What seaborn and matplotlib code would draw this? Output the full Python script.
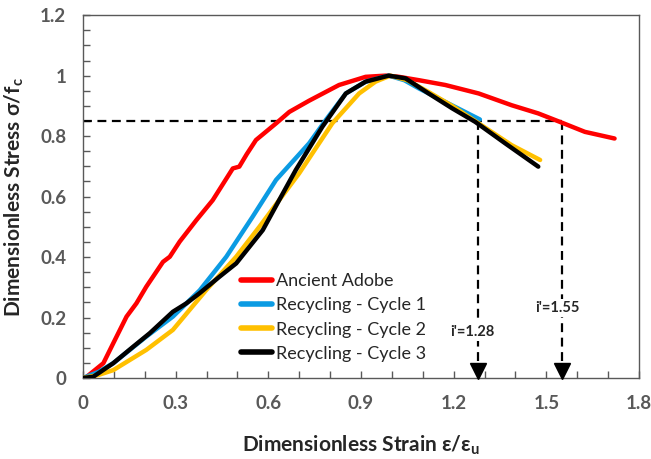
import pandas as pd
import matplotlib
matplotlib.use('Agg')
import matplotlib.pyplot as plt
import seaborn as sns
from matplotlib.ticker import MultipleLocator, FuncFormatter
from matplotlib.lines import Line2D

# datos
adobe_x = [0, 0.012, 0.066, 0.098, 0.141, 0.173, 0.205, 0.259, 0.281, 0.313, 0.367, 0.42, 0.485, 0.506,
           0.53, 0.56, 0.625, 0.668, 0.732, 0.829, 0.915, 0.98, 1.023, 1.087, 1.173, 1.281, 1.388, 1.474,
           1.544, 1.625, 1.721]
adobe_y = [0, 0.004, 0.049, 0.115, 0.203, 0.247, 0.302, 0.384, 0.401, 0.451, 0.522, 0.588, 0.693, 0.699,
           0.74, 0.787, 0.842, 0.880, 0.917, 0.969, 0.996, 1.0, 0.996, 0.985, 0.969, 0.941, 0.902, 0.875,
           0.847, 0.814, 0.792]

c1_x = [0, 0.05, 0.098, 0.205, 0.291, 0.378, 0.464, 0.549, 0.625, 0.732, 0.786, 0.851, 0.915, 0.99,
        1.04, 1.087, 1.173, 1.285]
c1_y = [0, 0.02, 0.049, 0.137, 0.203, 0.29, 0.401, 0.533, 0.655, 0.776, 0.853, 0.941, 0.98, 1.0,
        0.985, 0.958, 0.913, 0.855]

c2_x = [0, 0.05, 0.098, 0.205, 0.291, 0.399, 0.496, 0.571, 0.635, 0.7, 0.807, 0.894, 0.947, 0.995,
        1.05, 1.12, 1.195, 1.281, 1.388, 1.48]
c2_y = [0, 0.01, 0.026, 0.093, 0.159, 0.291, 0.401, 0.5, 0.588, 0.677, 0.842, 0.941, 0.98, 1.0,
        0.985, 0.945, 0.9, 0.842, 0.77, 0.721]

c3_x = [0, 0.033, 0.098, 0.162, 0.216, 0.291, 0.335, 0.377, 0.442, 0.496, 0.528, 0.582, 0.635, 0.689,
        0.775, 0.851, 0.915, 0.99, 1.044, 1.119, 1.195, 1.27, 1.367, 1.474]
c3_y = [0, 0.004, 0.049, 0.103, 0.148, 0.219, 0.247, 0.28, 0.335, 0.379, 0.42, 0.489, 0.588, 0.688,
        0.831, 0.941, 0.98, 1.0, 0.991, 0.941, 0.892, 0.847, 0.776, 0.699]

series = ['Ancient Adobe', 'Recycling - Cycle 1', 'Recycling - Cycle 2', 'Recycling - Cycle 3']
colores = ['#FF0000', '#0B9BE3', '#FFC000', '#000000']

nivel = 0.85
i_vals = [1.28, 1.55]

sns.set_style('white')
plt.rcParams['font.family'] = ['Lato', 'DejaVu Sans']
plt.rcParams['mathtext.fontset'] = 'custom'
plt.rcParams['mathtext.rm'] = 'Lato'
plt.rcParams['mathtext.bf'] = 'Lato:bold'

df = pd.concat([
    pd.DataFrame({'x': adobe_x, 'y': adobe_y, 'serie': series[0]}),
    pd.DataFrame({'x': c1_x, 'y': c1_y, 'serie': series[1]}),
    pd.DataFrame({'x': c2_x, 'y': c2_y, 'serie': series[2]}),
    pd.DataFrame({'x': c3_x, 'y': c3_y, 'serie': series[3]}),
], ignore_index=True)

fig = plt.figure(figsize=(6.51, 4.59), dpi=100)
ax = fig.add_axes([0.1275, 0.1765, 0.854, 0.7905])

# lineas punteadas de referencia
ax.plot([0, i_vals[1]], [nivel, nivel], color='black', lw=1.6, dashes=(4, 2.5), zorder=1)
ax.plot([i_vals[0], i_vals[0]], [nivel, 0.02], color='black', lw=1.6, dashes=(4, 2.5), zorder=1)
ax.plot([i_vals[1], i_vals[1]], [nivel, 0.02], color='black', lw=1.6, dashes=(4, 2.5), zorder=1)

sns.lineplot(data=df, x='x', y='y', hue='serie', palette=colores, sort=False, estimator=None,
             lw=3.2, legend=False, ax=ax, zorder=3)

# flechas
for iv in i_vals:
    ax.plot(iv, 0.024, marker='v', color='black', markersize=11, clip_on=False, zorder=4)

ax.text(i_vals[0] - 0.02, 0.153, "i'=1.28", ha='center', va='center', fontsize=10.5, fontweight='bold',
        bbox=dict(facecolor='white', edgecolor='none', pad=1.5), zorder=2)
ax.text(i_vals[1] - 0.015, 0.232, "i'=1.55", ha='center', va='center', fontsize=10.5, fontweight='bold',
        bbox=dict(facecolor='white', edgecolor='none', pad=1.5), zorder=2)

ax.set_xlim(0, 1.8)
ax.set_ylim(0, 1.2)
ax.xaxis.set_major_locator(MultipleLocator(0.3))
ax.xaxis.set_minor_locator(MultipleLocator(0.1))
ax.yaxis.set_major_locator(MultipleLocator(0.2))
ax.yaxis.set_minor_locator(MultipleLocator(0.05))
fmt = FuncFormatter(lambda v, p: f'{v:.1f}'.rstrip('0').rstrip('.') if abs(v) > 1e-9 else '0')
ax.xaxis.set_major_formatter(fmt)
ax.yaxis.set_major_formatter(fmt)
ax.tick_params(which='both', direction='in', length=5, width=1, color='#595959',
               bottom=True, left=True, top=False, right=False)
ax.tick_params(axis='both', which='major', labelsize=13.5, labelcolor='#595959', pad=12)
for lab in ax.get_xticklabels() + ax.get_yticklabels():
    lab.set_fontweight('bold')
for sp in ax.spines.values():
    sp.set_color('#595959')
    sp.set_linewidth(1)

ax.set_xlabel('Dimensionless Strain ε/ε$_\\mathbf{u}$', fontsize=15, fontweight='bold', labelpad=16)
ax.set_ylabel('Dimensionless Stress σ/f$_\\mathbf{c}$', fontsize=15, fontweight='bold', labelpad=10)

handles = [Line2D([0], [0], color=c, lw=4) for c in colores]
ax.legend(handles, series, loc='lower left', bbox_to_anchor=(0.255, 0.0), frameon=False, fontsize=13,
          handlelength=1.7, handletextpad=0.25, labelspacing=0.45)

fig.savefig('out.png', dpi=100)
